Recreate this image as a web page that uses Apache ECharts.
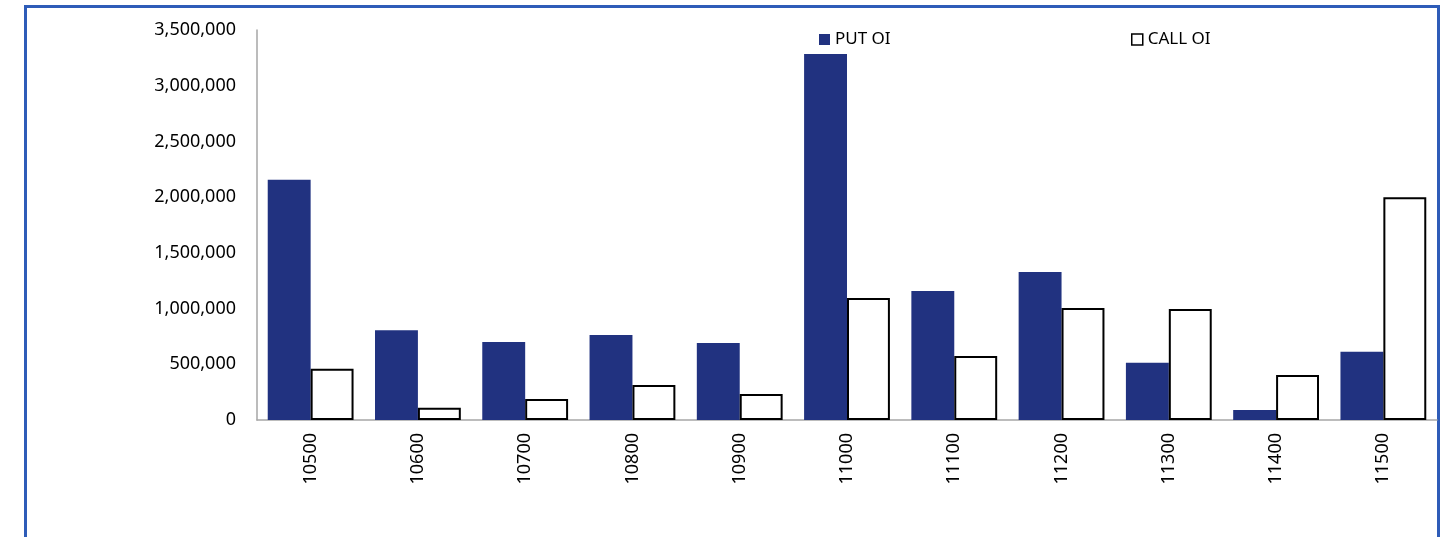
<!DOCTYPE html>
<html>
<head>
<meta charset="utf-8">
<script src="https://cdn.jsdelivr.net/npm/echarts@6/dist/echarts.min.js"></script>
<style>
html,body{margin:0;padding:0;background:#fff;width:1455px;height:537px;overflow:hidden;}
#frame{position:absolute;left:24px;top:5px;width:1416px;height:600px;border:3px solid #2e5cb8;box-sizing:border-box;}
#chart{position:absolute;left:0;top:0;width:1455px;height:537px;}
</style>
</head>
<body>
<div id="frame"></div>
<div id="chart"></div>
<script>
const categories = ['10500','10600','10700','10800','10900','11000','11100','11200','11300','11400','11500'];
const putOI  = [2155000, 805000, 700000, 763000, 692000, 3285000, 1158000, 1328000, 514000, 90000, 613000];
const callOI = [460000, 110000, 188000, 314000, 233000, 1095000, 574000, 1005000, 996000, 404000, 2000000];
const yTicks = { min: 0, max: 3500000, interval: 500000 };

const FONT = 'Noto Sans';
const chart = echarts.init(document.getElementById('chart'), null, {renderer:'canvas'});
chart.setOption({
  animation: false,
  backgroundColor: 'transparent',
  grid: { left: 257, right: 18, top: 30, bottom: 117, containLabel: false },
  legend: [
    { data: [{name:'PUT OI', itemStyle:{color:'#213280', borderWidth:0}}], left: 814, top: 26, itemWidth: 11, itemHeight: 11, itemGap: 5, icon: 'rect',
      textStyle:{fontFamily:FONT, fontSize:17, color:'#000'}, selectedMode:false },
    { data: [{name:'CALL OI', itemStyle:{color:'#fff', borderColor:'#000', borderWidth:1.5}}], left: 1126, top: 26, itemWidth: 11, itemHeight: 11, itemGap: 5, icon: 'rect',
      textStyle:{fontFamily:FONT, fontSize:17, color:'#000'}, selectedMode:false }
  ],
  xAxis: {
    type: 'category', data: categories,
    axisLine: { lineStyle: { color: '#a6a6a6', width: 1.5 } },
    axisTick: { show: false },
    axisLabel: { rotate: 90, fontFamily: FONT, fontSize: 18, color: '#000', margin: 13, interval: 0 }
  },
  yAxis: {
    type: 'value', min: yTicks.min, max: yTicks.max, interval: yTicks.interval,
    axisLine: { show: true, lineStyle: { color: '#a6a6a6', width: 1.5 } },
    axisTick: { show: false },
    splitLine: { show: false },
    axisLabel: { fontFamily: FONT, fontSize: 18, color: '#000', margin: 21,
      formatter: v => v.toLocaleString('en-US') }
  },
  series: [
    { name: 'PUT OI', type: 'bar', data: putOI, barGap: '0%', barCategoryGap: '20%',
      itemStyle: { color: '#213280' } },
    { name: 'CALL OI', type: 'bar', data: callOI, barGap: '0%', barCategoryGap: '20%',
      itemStyle: { color: '#ffffff', borderColor: '#000', borderWidth: 2 } }
  ]
});
</script>
</body>
</html>
